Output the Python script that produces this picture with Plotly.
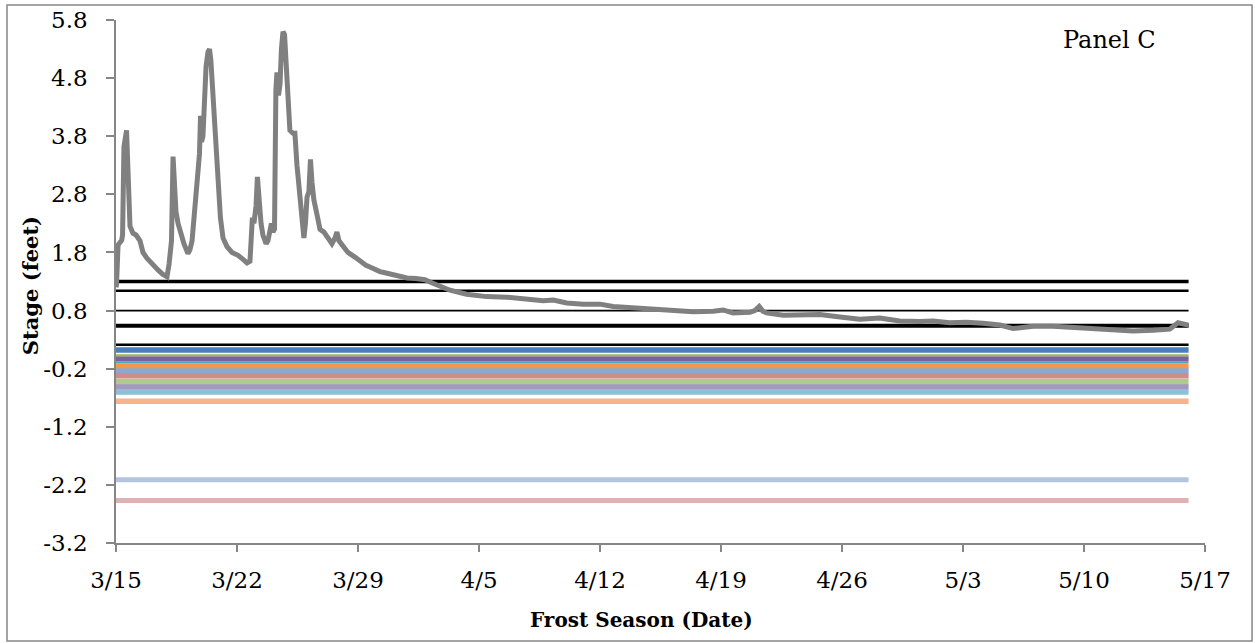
import plotly.graph_objects as go

# ---------------- data ----------------
tick_days = [0, 7, 14, 21, 28, 35, 42, 49, 56, 63]
tick_labels = ["3/15", "3/22", "3/29", "4/5", "4/12", "4/19", "4/26", "5/3", "5/10", "5/17"]
y_tick_vals = [-3.2, -2.2, -1.2, -0.2, 0.8, 1.8, 2.8, 3.8, 4.8, 5.8]
y_tick_labels = ["-3.2", "-2.2", "-1.2", "-0.2", "0.8", "1.8", "2.8", "3.8", "4.8", "5.8"]

# stage record (days after 3/15, feet)
stage_days = [0.0, 0.03, 0.12, 0.33, 0.38, 0.43, 0.46, 0.61, 0.69, 0.81, 0.98, 1.16, 1.39, 1.56,
              1.79, 2.08, 2.43, 2.72, 2.95, 3.07, 3.12, 3.21, 3.30, 3.38, 3.47, 3.59, 3.76, 3.93,
              4.16, 4.28, 4.40, 4.51, 4.63, 4.74, 4.83, 4.89, 4.95, 5.03, 5.09, 5.21, 5.32, 5.41,
              5.49, 5.61, 5.75, 5.90, 6.04, 6.19, 6.42, 6.71, 7.06, 7.35, 7.58, 7.75, 7.84, 7.89,
              7.98, 8.10, 8.18, 8.27, 8.39, 8.50, 8.68, 8.79, 8.91, 8.99, 9.08, 9.17, 9.25, 9.31,
              9.40, 9.49, 9.57, 9.66, 9.75, 9.86, 9.98, 10.06, 10.24, 10.35, 10.47, 10.64, 10.76,
              10.87, 10.96, 11.05, 11.16, 11.25, 11.34, 11.45, 11.63, 11.80, 12.03, 12.26, 12.49,
              12.67, 12.78, 12.90, 13.13, 13.42, 13.82, 14.11, 14.46, 14.69, 14.98, 15.27, 15.56,
              15.85, 16.31, 16.83, 17.35, 17.87, 18.33, 19.32, 20.28, 21.44, 22.60, 23.76, 24.71,
              25.30, 26.07, 27.03, 28.00, 28.76, 29.92, 31.08, 32.23, 33.39, 34.55, 35.12, 35.70,
              36.67, 36.96, 37.21, 37.42, 37.63, 38.60, 39.56, 40.72, 41.88, 43.03, 44.19, 45.34,
              46.50, 47.27, 48.24, 49.20, 50.16, 51.13, 51.90, 53.06, 54.22, 55.38, 56.52, 57.68,
              58.84, 60.00, 60.96, 61.44, 61.93, 62.05]
stage_ft = [1.20, 1.25, 1.93, 2.01, 2.10, 2.80, 3.62, 3.90, 3.40, 2.25, 2.13, 2.10, 2.00, 1.80,
            1.70, 1.60, 1.50, 1.42, 1.38, 1.60, 1.85, 2.00, 3.45, 2.90, 2.50, 2.30, 2.10, 1.95,
            1.78, 1.85, 2.00, 2.40, 2.80, 3.00, 3.50, 4.15, 3.70, 3.80, 4.20, 5.00, 5.25, 5.30,
            5.10, 4.50, 3.70, 3.00, 2.40, 2.05, 1.90, 1.80, 1.75, 1.68, 1.62, 1.65, 2.00, 2.40,
            2.30, 2.60, 3.10, 2.70, 2.30, 2.10, 1.95, 2.00, 2.15, 2.30, 2.15, 2.20, 4.60, 4.90,
            4.50, 4.70, 5.30, 5.60, 5.55, 5.00, 4.30, 3.90, 3.85, 3.85, 3.30, 2.70, 2.30,
            2.05, 2.30, 2.75, 2.85, 3.40, 3.00, 2.70, 2.45, 2.20, 2.15, 2.05, 1.95,
            2.05, 2.15, 2.00, 1.90, 1.80, 1.72, 1.65, 1.58, 1.55, 1.50, 1.47, 1.45,
            1.43, 1.40, 1.36, 1.35, 1.33, 1.27, 1.15, 1.08, 1.04, 1.03, 0.99, 0.97,
            0.98, 0.93, 0.91, 0.91, 0.87, 0.85, 0.82, 0.81, 0.78, 0.79, 0.81, 0.76,
            0.77, 0.80, 0.87, 0.79, 0.76, 0.72, 0.73, 0.73, 0.69, 0.65, 0.67, 0.62,
            0.61, 0.62, 0.59, 0.60, 0.58, 0.55, 0.49, 0.53, 0.53, 0.51, 0.48, 0.46,
            0.45, 0.46, 0.48, 0.59, 0.56, 0.55]

# reference elevations (feet), drawn across the season
level_start_day = 0.0
level_end_day = 62.05
black_levels = [1.30, 1.14, 0.80, 0.54, 0.21]
black_widths = [3.5, 2.5, 1.8, 4.0, 2.5]
color_levels = [0.12, 0.03, -0.03, -0.09, -0.15, -0.23, -0.32, -0.42, -0.51, -0.60, -0.76, -2.11, -2.47]
color_hex = ["#4a7ebb", "#98b954", "#7d60a0", "#46aac5", "#f79646", "#8aa8d4", "#d18b89",
             "#b0c98f", "#a497c0", "#8ac1d4", "#f8b38a", "#b4c4e0", "#dbb3b2"]
color_widths = [5.5, 2.0, 5.0, 2.0, 5.0, 5.5, 5.5, 5.5, 5.5, 5.5, 5.5, 5.0, 5.0]

# ---------------- figure ----------------
FONT = "DejaVu Serif"
AX = "#868686"
fig = go.Figure()

for lvl, col, w in zip(color_levels[::-1], color_hex[::-1], color_widths[::-1]):
    fig.add_trace(go.Scatter(x=[level_start_day, level_end_day], y=[lvl, lvl], mode="lines",
                             line=dict(color=col, width=w), hoverinfo="skip", showlegend=False))
for lvl, w in zip(black_levels, black_widths):
    fig.add_trace(go.Scatter(x=[level_start_day, level_end_day], y=[lvl, lvl], mode="lines",
                             line=dict(color="#000000", width=w), hoverinfo="skip", showlegend=False))

fig.add_trace(go.Scatter(x=stage_days, y=stage_ft, mode="lines",
                         line=dict(color="#808080", width=5), showlegend=False))

fig.update_layout(
    width=1255, height=643,
    margin=dict(l=116, r=50, t=20, b=100, autoexpand=False),
    paper_bgcolor="white", plot_bgcolor="white",
    font=dict(family=FONT, color="black"),
    xaxis=dict(range=[0, 63], tickmode="array", tickvals=tick_days, ticktext=tick_labels,
               showline=True, linecolor=AX, linewidth=1.5, ticks="outside", ticklen=7,
               tickcolor=AX, tickwidth=1.5, showgrid=False, zeroline=False, automargin=False,
               tickfont=dict(family=FONT, size=23, color="black"), ticklabelstandoff=9),
    yaxis=dict(range=[-3.2, 5.8], tickmode="array", tickvals=y_tick_vals, ticktext=y_tick_labels,
               showline=True, linecolor=AX, linewidth=1.5, ticks="outside", ticklen=8,
               tickcolor=AX, tickwidth=1.5, showgrid=False, zeroline=False, automargin=False,
               tickfont=dict(family=FONT, size=23, color="black"), ticklabelstandoff=14),
    shapes=[dict(type="rect", xref="paper", yref="paper", x0=-0.1001, x1=1.0432,
                 y0=-0.1874, y1=1.0287, line=dict(color=AX, width=1.5), fillcolor="rgba(0,0,0,0)",
                 layer="below")],
    annotations=[
        dict(text="Panel C", xref="paper", yref="paper", x=0.9125, y=0.962, showarrow=False,
             font=dict(family=FONT, size=24, color="black"), xanchor="center", yanchor="middle"),
        dict(text="<b>Frost Season (Date)</b>", xref="paper", yref="paper", x=0.483, y=-0.147,
             showarrow=False, font=dict(family=FONT, size=20, color="black"),
             xanchor="center", yanchor="middle"),
        dict(text="<b>Stage (feet)</b>", xref="paper", yref="paper", x=-0.079, y=0.493,
             showarrow=False, textangle=-90, font=dict(family=FONT, size=21, color="black"),
             xanchor="center", yanchor="middle"),
    ],
)

fig.write_html("out.html", config={"displayModeBar": False},
               post_script="document.body.style.margin='0';document.body.style.overflow='hidden';")
